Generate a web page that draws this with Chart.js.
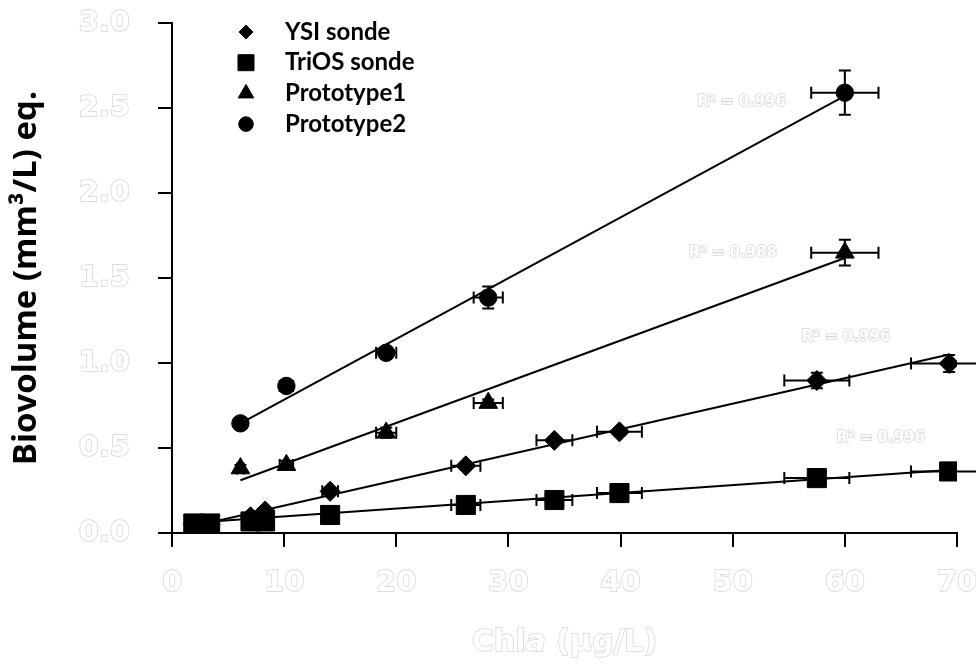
<!DOCTYPE html>
<html>
<head>
<meta charset="utf-8">
<script src="https://cdn.jsdelivr.net/npm/chart.js@4.4.1/dist/chart.umd.min.js"></script>
<style>
  html, body { margin: 0; padding: 0; background: #fff; }
</style>
</head>
<body>
<canvas id="bioChart" width="976" height="665"></canvas>
<script>
// Chl a of the sonde calibration samples (µg/L) and their spread
const chlaSonde = [1.9, 3.4, 7.0, 8.3, 14.1, 26.2, 34.1, 39.9, 57.5, 69.3];
const chlaSondeErr = [0.1, 0.15, 0.3, 0.35, 0.7, 1.3, 1.6, 2.0, 2.9, 3.4];
const ysiBio = [0.05, 0.05, 0.095, 0.13, 0.245, 0.395, 0.545, 0.595, 0.897, 0.997];
const ysiErr = [0.005, 0.005, 0.01, 0.01, 0.015, 0.015, 0.02, 0.02, 0.045, 0.05];
const triosBio = [0.056, 0.056, 0.068, 0.068, 0.106, 0.165, 0.194, 0.235, 0.323, 0.362];
const triosErr = [0.005, 0.005, 0.005, 0.005, 0.008, 0.01, 0.01, 0.012, 0.015, 0.015];

// prototypes
const chlaProto = [6.1, 10.2, 19.1, 28.2, 60.0];
const chlaProtoErr = [0.3, 0.6, 0.9, 1.3, 3.0];
const proto1Bio = [0.38, 0.40, 0.59, 0.765, 1.649];
const proto1Err = [0.02, 0.025, 0.03, 0.02, 0.076];
const proto2Bio = [0.645, 0.865, 1.06, 1.385, 2.59];
const proto2Err = [0.02, 0.03, 0.03, 0.065, 0.13];

// linear fits (end points)
const ysiFitX = [1.9, 69.3], ysiFitY = [0.04, 1.05];
const triosFitX = [1.9, 69.3], triosFitY = [0.06, 0.37];
const proto1FitX = [6.1, 60.0], proto1FitY = [0.31, 1.618];
const proto2FitX = [6.1, 60.0], proto2FitY = [0.645, 2.572];

// R² annotations (P2, P1, YSI, TriOS)
const r2Text = ['R\u00B2 = 0.996', 'R\u00B2 = 0.988', 'R\u00B2 = 0.996', 'R\u00B2 = 0.996'];
const r2X = [50.8, 50.0, 60.1, 63.2];
const r2Y = [2.535, 1.647, 1.153, 0.559];

const legendLabels = ['YSI sonde', 'TriOS sonde', 'Prototype1', 'Prototype2'];

const pts = (xs, ys) => xs.map((x, i) => ({ x: x, y: ys[i] }));

const hollowFill = '#ffffff';
const hollowStroke = '#d6d6d6';

function scatterSet(label, xs, ys, xErr, yErr, style, r) {
  return {
    type: 'scatter',
    label: label,
    data: pts(xs, ys),
    xErr: xErr,
    yErr: yErr,
    pointStyle: style,
    pointRadius: r,
    pointHoverRadius: r,
    backgroundColor: '#000',
    borderColor: '#000',
    borderWidth: 1,
    order: 1
  };
}

function fitSet(xs, ys) {
  return {
    type: 'line',
    label: '_fit',
    data: pts(xs, ys),
    borderColor: '#000',
    borderWidth: 2,
    pointRadius: 0,
    fill: false,
    order: 2
  };
}

// error bars with caps
const errorBars = {
  id: 'errorBars',
  afterDatasetsDraw(chart) {
    const ctx = chart.ctx;
    const xs = chart.scales.x, ys = chart.scales.y;
    const cap = 6;
    ctx.save();
    ctx.strokeStyle = '#000';
    ctx.lineWidth = 2;
    chart.data.datasets.forEach(ds => {
      if (!ds.xErr) return;
      ds.data.forEach((p, i) => {
        const px = xs.getPixelForValue(p.x), py = ys.getPixelForValue(p.y);
        const x0 = xs.getPixelForValue(p.x - ds.xErr[i]), x1 = xs.getPixelForValue(p.x + ds.xErr[i]);
        const y0 = ys.getPixelForValue(p.y - ds.yErr[i]), y1 = ys.getPixelForValue(p.y + ds.yErr[i]);
        ctx.beginPath();
        ctx.moveTo(x0, py); ctx.lineTo(x1, py);
        ctx.moveTo(x0, py - cap); ctx.lineTo(x0, py + cap);
        ctx.moveTo(x1, py - cap); ctx.lineTo(x1, py + cap);
        ctx.moveTo(px, y0); ctx.lineTo(px, y1);
        ctx.moveTo(px - cap, y0); ctx.lineTo(px + cap, y0);
        ctx.moveTo(px - cap, y1); ctx.lineTo(px + cap, y1);
        ctx.stroke();
      });
    });
    ctx.restore();
  }
};

function hollowText(ctx, text, x, y) {
  ctx.lineWidth = 1.5;
  ctx.strokeStyle = hollowStroke;
  ctx.strokeText(text, x, y);
  ctx.fillStyle = hollowFill;
  ctx.fillText(text, x, y);
}

// legend, R² labels and x title
const extras = {
  id: 'extras',
  afterDraw(chart) {
    const ctx = chart.ctx;
    const xs = chart.scales.x, ys = chart.scales.y;
    const area = chart.chartArea;
    ctx.save();

    // legend in the upper left of the plot
    const markerR = [7, 11.3, 9, 7.3];
    const scatters = chart.data.datasets.filter(d => d.type === 'scatter');
    ctx.font = 'bold 24px Lato';
    ctx.textBaseline = 'middle';
    ctx.textAlign = 'left';
    scatters.forEach((ds, i) => {
      const y = 32 + i * 30.7;
      ctx.fillStyle = '#000';
      ctx.strokeStyle = '#000';
      ctx.lineWidth = 1;
      Chart.helpers.drawPoint(ctx, { pointStyle: ds.pointStyle, radius: markerR[i], rotation: 0, borderWidth: 1 }, 246, y);
      ctx.fillStyle = '#000';
      ctx.fillText(legendLabels[i], 285, y);
    });

    // R² labels
    ctx.font = 'bold 15px "DejaVu Sans"';
    ctx.textAlign = 'center';
    r2Text.forEach((t, i) => {
      hollowText(ctx, t, xs.getPixelForValue(r2X[i]), ys.getPixelForValue(r2Y[i]));
    });

    // x axis title: Chl a (µg/L) with italic a
    ctx.textBaseline = 'alphabetic';
    ctx.textAlign = 'left';
    const parts = [['Chl', 'bold 30px "DejaVu Sans"'], ['a', 'italic bold 30px "DejaVu Sans"'], [' (\u00B5g/L)', 'bold 30px "DejaVu Sans"']];
    let total = 0;
    parts.forEach(p => { ctx.font = p[1]; total += ctx.measureText(p[0]).width; });
    let cx = (area.left + area.right) / 2 - total / 2;
    parts.forEach(p => {
      ctx.font = p[1];
      hollowText(ctx, p[0], cx, 651);
      cx += ctx.measureText(p[0]).width;
    });
    ctx.restore();
  }
};

const ctx = document.getElementById('bioChart').getContext('2d');
new Chart(ctx, {
  data: {
    datasets: [
      fitSet(ysiFitX, ysiFitY),
      fitSet(triosFitX, triosFitY),
      fitSet(proto1FitX, proto1FitY),
      fitSet(proto2FitX, proto2FitY),
      scatterSet(legendLabels[0], chlaSonde, ysiBio, chlaSondeErr, ysiErr, 'rectRot', 10),
      scatterSet(legendLabels[1], chlaSonde, triosBio, chlaSondeErr, triosErr, 'rect', 13.5),
      scatterSet(legendLabels[2], chlaProto, proto1Bio, chlaProtoErr, proto1Err, 'triangle', 10.8),
      scatterSet(legendLabels[3], chlaProto, proto2Bio, chlaProtoErr, proto2Err, 'circle', 8.7)
    ]
  },
  options: {
    responsive: false,
    animation: false,
    devicePixelRatio: 1,
    layout: { padding: { top: 23, right: 19, left: 0, bottom: 0 } },
    plugins: {
      legend: { display: false },
      tooltip: { enabled: false }
    },
    scales: {
      x: {
        type: 'linear',
        min: 0,
        max: 70,
        afterFit: s => { s.height = 132; s.paddingLeft = 0; s.paddingRight = 0; },
        ticks: {
          stepSize: 10,
          padding: 19,
          color: hollowFill,
          textStrokeColor: hollowStroke,
          textStrokeWidth: 1.5,
          font: { family: 'DejaVu Sans', size: 29, weight: 'bold' }
        },
        grid: { drawOnChartArea: false, tickLength: 14, color: '#000', lineWidth: 2 },
        border: { color: '#000', width: 2 }
      },
      y: {
        min: 0,
        max: 3,
        afterFit: s => { s.width = 172; s.paddingTop = 0; s.paddingBottom = 0; },
        ticks: {
          stepSize: 0.5,
          padding: 28,
          color: hollowFill,
          textStrokeColor: hollowStroke,
          textStrokeWidth: 1.5,
          font: { family: 'DejaVu Sans', size: 29, weight: 'bold' },
          callback: v => v.toFixed(1)
        },
        grid: { drawOnChartArea: false, tickLength: 14, color: '#000', lineWidth: 2 },
        border: { color: '#000', width: 2 },
        title: {
          display: true,
          text: 'Biovolume (mm\u00B3/L) eq.',
          color: '#000',
          font: { family: 'Open Sans', size: 33, weight: 'bold' },
          padding: { top: 7, bottom: 0 }
        }
      }
    }
  },
  plugins: [errorBars, extras]
});
</script>
</body>
</html>
